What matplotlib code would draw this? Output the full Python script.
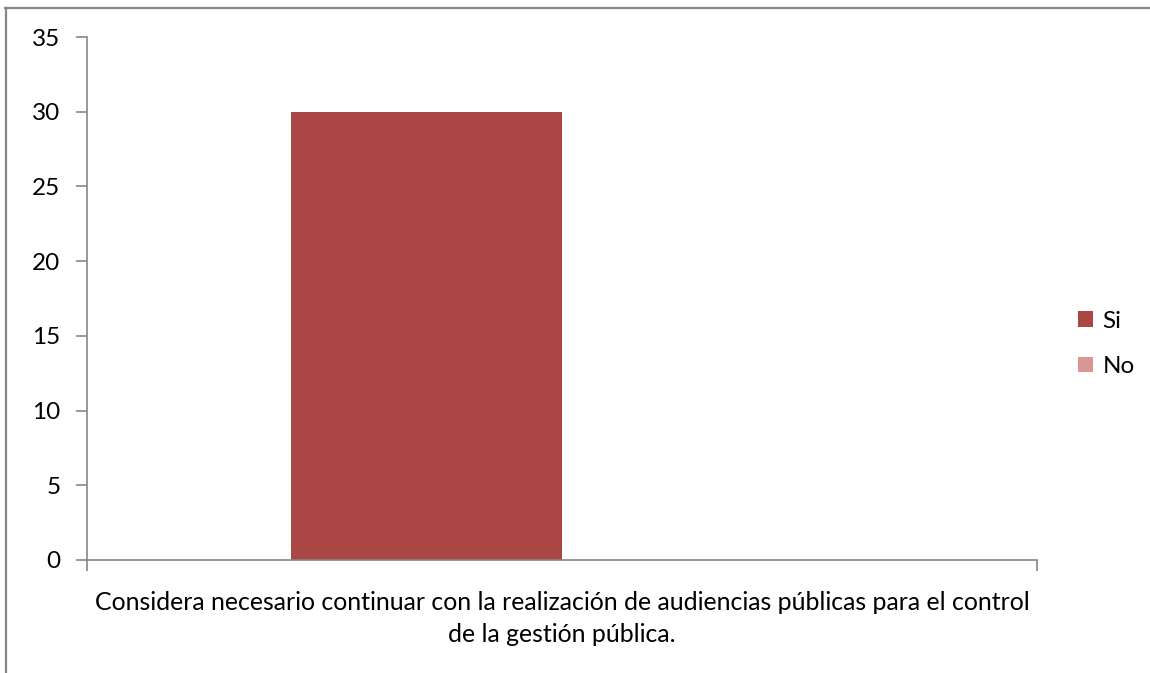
import matplotlib
matplotlib.use("Agg")
import matplotlib.pyplot as plt
from matplotlib.lines import Line2D
from matplotlib.patches import Patch

categories = ["Considera necesario continuar con la realización de audiencias públicas para el control\nde la gestión pública."]
series_names = ["Si", "No"]
series_values = [[30], [0]]
colors = ["#AA4744", "#D99694"]
yticks = [0, 5, 10, 15, 20, 25, 30, 35]

plt.rcParams['font.family'] = ['Lato', 'DejaVu Sans']
FS = 17.5

fig = plt.figure(figsize=(11.5, 6.73), dpi=100)
ax = fig.add_axes([87/1150, 1-560/673, (1037-87)/1150, (560-37)/673])

gap = 1.5
n = len(series_names)
bw = 1.0 / (n + gap)
for i, (name, vals) in enumerate(zip(series_names, series_values)):
    xs = [c - 0.5 + gap*bw/2 + i*bw + bw/2 for c in range(len(categories))]
    ax.bar(xs, vals, width=bw, color=colors[i], label=name, zorder=2)

ax.set_xlim(-0.5, len(categories) - 0.5)
ax.set_ylim(0, 35)
ax.set_yticks(yticks)
ax.set_yticklabels([str(t) for t in yticks], fontsize=FS)
ax.tick_params(axis='y', length=8, width=1.2, color='#868686', pad=11)
ax.set_xticks([-0.5, 0.5], minor=False)
ax.set_xticklabels(['', ''])
ax.tick_params(axis='x', length=8, width=1.2, color='#868686')
for s in ['top', 'right']:
    ax.spines[s].set_visible(False)
for s in ['left', 'bottom']:
    ax.spines[s].set_color('#868686')
    ax.spines[s].set_linewidth(1.2)

for c, lab in enumerate(categories):
    ax.text(c, -2.05, lab, ha='center', va='top', fontsize=FS + 0.4, linespacing=1.5,
            transform=ax.transData)

handles = [Patch(facecolor=colors[i], edgecolor='none') for i in range(n)]
leg = fig.legend(handles, series_names, loc='center left',
                 bbox_to_anchor=(1056/1150, 1-344/673), frameon=False,
                 fontsize=FS, handlelength=0.62, handleheight=0.62,
                 handletextpad=0.4, labelspacing=1.0)

# outer chart frame (top and left edges visible)
fig.add_artist(Line2D([5/1150, 1], [1-7.5/673, 1-7.5/673], transform=fig.transFigure,
                      color='#868686', linewidth=1.6))
fig.add_artist(Line2D([5.5/1150, 5.5/1150], [0, 1-7.5/673], transform=fig.transFigure,
                      color='#868686', linewidth=1.6))

fig.savefig("out.png", dpi=100)
